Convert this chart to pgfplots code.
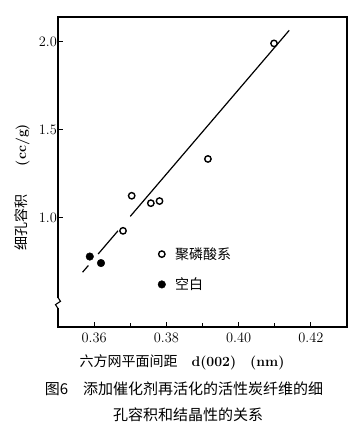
\documentclass[border=0pt]{standalone}
\usepackage{fontspec}
\usepackage{pgfplots}
\pgfplotsset{compat=1.18}
\newfontfamily\cjk{Noto Sans CJK SC}
\begin{document}
\begin{tikzpicture}[x=1pt,y=1pt]
\useasboundingbox (0pt,0pt) rectangle (361pt,427pt);
\begin{axis}[
  at={(58pt,100pt)}, anchor=south west, scale only axis,
  width=289pt, height=310pt,
  xmin=0.35, xmax=0.43, ymin=0.38, ymax=2.14,
  xtick={0.36,0.38,0.40,0.42}, minor xtick={0.37,0.39,0.41},
  ytick={1.0,1.5,2.0},
  tick align=inside, xtick pos=bottom, ytick pos=left,
  major tick length=5pt, minor tick length=4pt,
  axis line style={line width=1.1pt},
  tick style={line width=1pt,black},
  xticklabel style={yshift=-3pt,/pgf/number format/.cd,fixed,fixed zerofill,precision=2},
  yticklabel style={inner xsep=1pt,/pgf/number format/.cd,fixed,fixed zerofill,precision=1},
  tick label style={font=\fontsize{15}{17}\selectfont},
  clip=false,
  legend style={at={(rel axis cs:0.335,0.27)}, anchor=north west, draw=none, fill=none,
    font=\cjk\fontsize{14}{16}\selectfont, row sep=13pt, legend cell align=left},
  legend image code/.code={\path[draw=none,fill=none] (0cm,0cm) rectangle (0.5cm,0.01cm); \draw[#1] plot coordinates {(0.1cm,0cm)};},
]
% fitted line (broken near the lower points)
\addplot[black, line width=1.2pt, forget plot] coordinates {(0.3568,0.691) (0.3584,0.729)};
\addplot[black, line width=1.2pt, forget plot] coordinates {(0.3611,0.794) (0.3666,0.926)};
\addplot[black, line width=1.2pt, forget plot] coordinates {(0.3700,1.008) (0.4140,2.064)};
% open circles
\addplot[only marks, mark=o, mark size=3.2pt, line width=1.4pt, black] coordinates {
 (0.3680,0.926) (0.3704,1.125) (0.3757,1.083) (0.3781,1.095) (0.3915,1.334) (0.4098,1.990)};
\addlegendentry{聚磷酸系}
% filled circles
\addplot[only marks, mark=*, mark size=3.8pt, black] coordinates {
 (0.3588,0.780) (0.3619,0.743)};
\addlegendentry{空白}
% axis break on the y axis
\fill[white] ([xshift=-2.5pt]rel axis cs:0,0.060) rectangle ([xshift=2.5pt]rel axis cs:0,0.095);
\draw[line width=1.1pt] (rel axis cs:0,0.060) -- ([xshift=-2.5pt]rel axis cs:0,0.072)
  -- ([xshift=2.5pt]rel axis cs:0,0.083) -- (rel axis cs:0,0.095);
\end{axis}
\node[rotate=90, font=\fontsize{14}{16}\selectfont] at (22pt,240pt) {{\cjk 细孔容积}\qquad\textbf{(cc/g)}};
\node[font=\fontsize{14}{16}\selectfont] at (182pt,65pt) {{\cjk 六方网平面间距}\quad\textbf{d(002)}\quad\textbf{(nm)}};
\node[font=\cjk\fontsize{15}{17}\selectfont] at (184pt,38pt) {图6\quad 添加催化剂再活化的活性炭纤维的细};
\node[font=\cjk\fontsize{15}{17}\selectfont] at (188pt,12pt) {孔容积和结晶性的关系};
\end{tikzpicture}
\end{document}
